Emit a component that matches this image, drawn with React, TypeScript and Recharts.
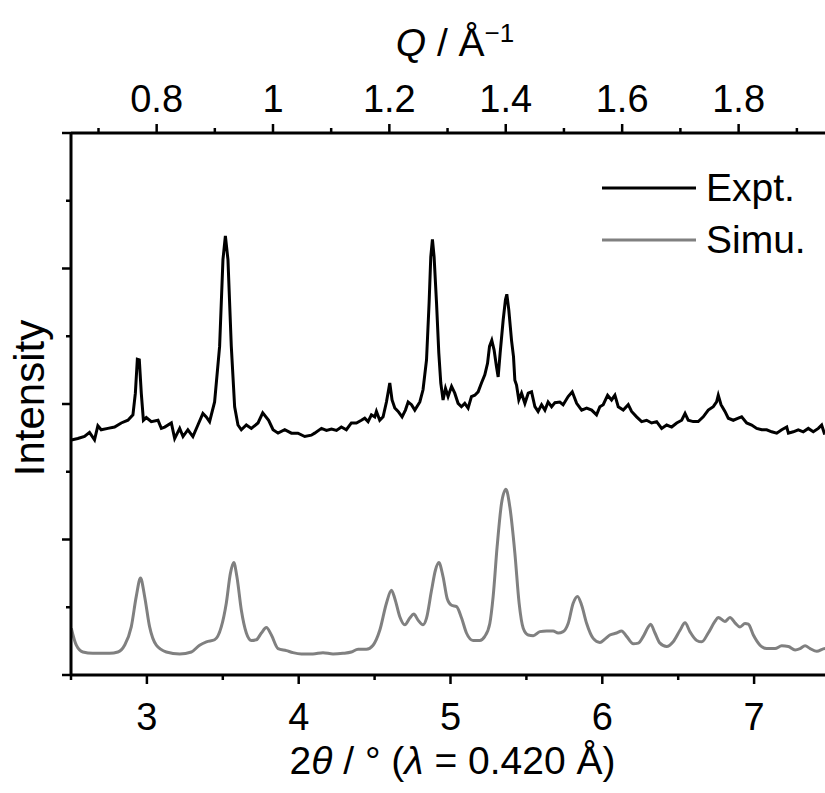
import React from 'react';
import { LineChart, Line, XAxis, YAxis } from 'recharts';

// wavelength used for the Q axis on top
const LAMBDA = 0.42;

const exptTwoTheta = [
  2.502, 2.545, 2.589, 2.622, 2.655, 2.677, 2.699, 2.743, 2.787, 2.831, 2.875, 2.908, 2.924, 2.937, 2.95,
  2.963, 2.977, 2.996, 3.029, 3.073, 3.095, 3.117, 3.161, 3.183, 3.216, 3.238, 3.27, 3.303, 3.336, 3.369,
  3.391, 3.413, 3.446, 3.479, 3.501, 3.517, 3.534, 3.556, 3.578, 3.6, 3.622, 3.655, 3.688, 3.732, 3.763,
  3.802, 3.831, 3.864, 3.908, 3.952, 3.995, 4.04, 4.083, 4.105, 4.15, 4.183, 4.216, 4.249, 4.281, 4.314,
  4.347, 4.38, 4.413, 4.435, 4.457, 4.479, 4.501, 4.512, 4.534, 4.556, 4.578, 4.6, 4.615, 4.633, 4.655,
  4.681, 4.703, 4.721, 4.743, 4.765, 4.798, 4.819, 4.842, 4.859, 4.87, 4.881, 4.892, 4.908, 4.923, 4.936,
  4.951, 4.967, 4.984, 5.007, 5.028, 5.05, 5.072, 5.094, 5.116, 5.138, 5.16, 5.182, 5.204, 5.226, 5.244,
  5.257, 5.272, 5.287, 5.303, 5.314, 5.327, 5.347, 5.362, 5.371, 5.384, 5.402, 5.415, 5.424, 5.435, 5.45,
  5.468, 5.49, 5.512, 5.534, 5.556, 5.577, 5.6, 5.622, 5.643, 5.666, 5.688, 5.72, 5.742, 5.775, 5.802,
  5.831, 5.864, 5.897, 5.93, 5.962, 5.984, 6.006, 6.035, 6.061, 6.083, 6.105, 6.138, 6.171, 6.193, 6.226,
  6.259, 6.292, 6.325, 6.358, 6.391, 6.424, 6.457, 6.49, 6.523, 6.545, 6.566, 6.599, 6.632, 6.665, 6.698,
  6.731, 6.753, 6.764, 6.782, 6.808, 6.83, 6.863, 6.896, 6.918, 6.951, 6.984, 7.017, 7.05, 7.083, 7.116,
  7.149, 7.182, 7.215, 7.226, 7.258, 7.291, 7.324, 7.357, 7.39, 7.423, 7.445, 7.462, 7.5,
];
const exptIntensity = [
  3.47, 3.49, 3.52, 3.58, 3.47, 3.68, 3.62, 3.64, 3.66, 3.72, 3.76, 3.84, 4.16, 4.66, 4.65,
  4.16, 3.76, 3.8, 3.74, 3.76, 3.64, 3.66, 3.72, 3.49, 3.64, 3.52, 3.62, 3.52, 3.69, 3.86,
  3.81, 3.74, 4.03, 4.85, 6.13, 6.48, 6.13, 4.85, 3.96, 3.69, 3.62, 3.69, 3.64, 3.72, 3.87,
  3.76, 3.62, 3.57, 3.62, 3.57, 3.57, 3.52, 3.54, 3.57, 3.64, 3.61, 3.63, 3.61, 3.66, 3.62,
  3.72, 3.72, 3.76, 3.79, 3.74, 3.84, 3.81, 3.89, 3.76, 3.81, 4.03, 4.31, 4.06, 3.94, 3.89,
  3.81, 3.91, 4.03, 3.99, 3.91, 4.03, 4.21, 4.65, 5.49, 6.17, 6.43, 6.17, 5.49, 4.75, 4.31,
  4.06, 4.23, 4.11, 4.26, 4.16, 4.01, 3.96, 4.01, 3.94, 4.11, 4.13, 4.18, 4.31, 4.43, 4.6,
  4.85, 4.94, 4.8, 4.55, 4.4, 4.75, 5.24, 5.54, 5.62, 5.39, 4.94, 4.7, 4.35, 4.28, 4.06,
  4.16, 4.01, 4.16, 4.18, 3.96, 3.89, 3.99, 3.91, 4.03, 3.96, 4.02, 4.03, 3.99, 4.11, 4.18,
  4.01, 3.91, 3.94, 3.91, 3.84, 3.96, 3.99, 4.13, 4.06, 4.13, 3.96, 3.91, 3.99, 3.89, 3.81,
  3.74, 3.76, 3.72, 3.74, 3.64, 3.69, 3.66, 3.72, 3.76, 3.86, 3.76, 3.74, 3.74, 3.81, 3.91,
  3.96, 4.03, 4.13, 3.99, 3.89, 3.79, 3.76, 3.79, 3.81, 3.72, 3.69, 3.64, 3.62, 3.62, 3.59,
  3.57, 3.62, 3.66, 3.57, 3.59, 3.62, 3.59, 3.64, 3.59, 3.64, 3.69, 3.57, 3.6,
];

const simuTwoTheta = [
  2.502, 2.535, 2.578, 2.644, 2.754, 2.809, 2.853, 2.897, 2.93, 2.958, 2.985, 3.018, 3.062, 3.128, 3.216,
  3.293, 3.347, 3.392, 3.446, 3.49, 3.523, 3.55, 3.572, 3.593, 3.622, 3.655, 3.688, 3.721, 3.754, 3.787,
  3.82, 3.864, 3.919, 3.962, 4.018, 4.094, 4.16, 4.226, 4.292, 4.347, 4.391, 4.446, 4.49, 4.534, 4.578,
  4.611, 4.633, 4.666, 4.699, 4.732, 4.758, 4.786, 4.819, 4.842, 4.875, 4.901, 4.923, 4.951, 4.978, 5.007,
  5.04, 5.073, 5.105, 5.149, 5.193, 5.226, 5.259, 5.281, 5.307, 5.336, 5.365, 5.391, 5.424, 5.452, 5.479,
  5.512, 5.545, 5.589, 5.633, 5.676, 5.709, 5.742, 5.775, 5.808, 5.837, 5.864, 5.897, 5.94, 5.984, 6.017,
  6.05, 6.094, 6.127, 6.16, 6.204, 6.237, 6.27, 6.303, 6.318, 6.347, 6.38, 6.424, 6.467, 6.512, 6.545,
  6.577, 6.622, 6.655, 6.698, 6.742, 6.764, 6.808, 6.841, 6.874, 6.907, 6.94, 6.962, 6.995, 7.039, 7.083,
  7.138, 7.182, 7.226, 7.27, 7.303, 7.336, 7.369, 7.413, 7.467, 7.5,
];
const simuIntensity = [
  0.69, 0.44, 0.34, 0.32, 0.32, 0.34, 0.44, 0.71, 1.16, 1.43, 1.16, 0.71, 0.44, 0.34, 0.31,
  0.34, 0.44, 0.49, 0.52, 0.71, 1.06, 1.5, 1.66, 1.45, 0.96, 0.62, 0.51, 0.52, 0.62, 0.7,
  0.59, 0.39, 0.36, 0.33, 0.31, 0.31, 0.33, 0.31, 0.32, 0.34, 0.38, 0.38, 0.44, 0.66, 1.06,
  1.25, 1.13, 0.86, 0.74, 0.84, 0.9, 0.81, 0.74, 0.84, 1.25, 1.55, 1.66, 1.45, 1.13, 1.03,
  1.01, 0.84, 0.62, 0.51, 0.51, 0.57, 0.76, 1.16, 1.89, 2.53, 2.74, 2.48, 1.8, 1.06, 0.69,
  0.59, 0.58, 0.64, 0.65, 0.65, 0.62, 0.64, 0.76, 1.06, 1.16, 1.03, 0.76, 0.54, 0.48, 0.53,
  0.59, 0.62, 0.65, 0.57, 0.46, 0.47, 0.57, 0.71, 0.75, 0.62, 0.47, 0.42, 0.49, 0.66, 0.77,
  0.64, 0.51, 0.49, 0.62, 0.79, 0.85, 0.79, 0.85, 0.77, 0.71, 0.76, 0.75, 0.59, 0.44, 0.39,
  0.39, 0.43, 0.42, 0.37, 0.39, 0.43, 0.39, 0.35, 0.39, 0.37,
];

const twoThetaTicks = [2.5, 3, 3.5, 4, 4.5, 5, 5.5, 6, 6.5, 7, 7.5];
const qTicks = [0.7, 0.8, 0.9, 1.0, 1.1, 1.2, 1.3, 1.4, 1.5, 1.6, 1.7, 1.8, 1.9];
const intensityTicks = [0, 1, 2, 3, 4, 5, 6, 7, 8];
const seriesNames = ['Expt.', 'Simu.'];

const FONT = '"Liberation Sans", Arial, sans-serif';
const GREY = '#808080';
const TICK_FONT = 38;

const qToTwoTheta = (q: number) => (2 * Math.asin((q * LAMBDA) / (4 * Math.PI)) * 180) / Math.PI;
const twoThetaToQ = (tt: number) => (4 * Math.PI * Math.sin(((tt / 2) * Math.PI) / 180)) / LAMBDA;

const exptData = exptTwoTheta.map((x, i) => ({ x, y: exptIntensity[i] }));
const simuData = simuTwoTheta.map((x, i) => ({ x, y: simuIntensity[i] }));

const BottomTick = (props: any) => {
  const { x, y, payload } = props;
  const major = Number.isInteger(payload.value);
  return (
    <g>
      <line x1={x} y1={y} x2={x} y2={y + (major ? 9 : 5)} stroke="#000" strokeWidth={2.5} />
      {major && (
        <text x={x} y={y + 55} textAnchor="middle" fontSize={TICK_FONT} fontFamily={FONT} fill="#000">
          {payload.value}
        </text>
      )}
    </g>
  );
};

const TopTick = (props: any) => {
  const { x, y, payload } = props;
  const tenth = Math.round(twoThetaToQ(payload.value) * 10);
  const major = tenth % 2 === 0;
  return (
    <g>
      <line x1={x} y1={y} x2={x} y2={y - (major ? 9 : 5)} stroke="#000" strokeWidth={2.5} />
      {major && (
        <text x={x} y={y - 21} textAnchor="middle" fontSize={TICK_FONT} fontFamily={FONT} fill="#000">
          {String(tenth / 10)}
        </text>
      )}
    </g>
  );
};

const LeftTick = (props: any) => {
  const { x, y, payload } = props;
  const major = payload.value % 2 === 0;
  return <line x1={x} y1={y} x2={x - (major ? 9 : 5)} y2={y} stroke="#000" strokeWidth={2.5} />;
};

export default function App() {
  return (
    <div
      style={{
        position: 'absolute',
        left: 0,
        top: 0,
        width: 825,
        height: 793,
        overflow: 'hidden',
        background: '#fff',
        fontFamily: FONT,
      }}
    >
      <LineChart width={840} height={793} margin={{ top: 73, right: 10, bottom: 58, left: 0 }}>
        <XAxis
          xAxisId="bottom"
          orientation="bottom"
          type="number"
          dataKey="x"
          domain={[2.5, 7.5]}
          allowDataOverflow
          ticks={twoThetaTicks}
          interval={0}
          height={60}
          tickLine={false}
          tickSize={0}
          tickMargin={0}
          axisLine={{ stroke: '#000', strokeWidth: 3 }}
          tick={(p: any) => <BottomTick {...p} />}
        />
        <XAxis
          xAxisId="top"
          orientation="top"
          type="number"
          dataKey="x"
          domain={[2.5, 7.5]}
          allowDataOverflow
          ticks={qTicks.map(qToTwoTheta)}
          interval={0}
          height={60}
          tickLine={false}
          tickSize={0}
          tickMargin={0}
          axisLine={{ stroke: '#000', strokeWidth: 3 }}
          tick={(p: any) => <TopTick {...p} />}
        />
        <YAxis
          yAxisId="left"
          type="number"
          domain={[0, 8]}
          allowDataOverflow
          ticks={intensityTicks}
          interval={0}
          width={71}
          tickLine={false}
          tickSize={0}
          tickMargin={0}
          axisLine={{ stroke: '#000', strokeWidth: 3 }}
          tick={(p: any) => <LeftTick {...p} />}
        />
        <Line
          data={simuData}
          dataKey="y"
          name={seriesNames[1]}
          xAxisId="bottom"
          yAxisId="left"
          type="monotone"
          stroke={GREY}
          strokeWidth={3}
          dot={false}
          isAnimationActive={false}
        />
        <Line
          data={exptData}
          dataKey="y"
          name={seriesNames[0]}
          xAxisId="bottom"
          yAxisId="left"
          type="linear"
          stroke="#000"
          strokeWidth={3}
          dot={false}
          isAnimationActive={false}
        />
      </LineChart>

      {/* legend */}
      <div style={{ position: 'absolute', left: 602, top: 162, fontSize: 39, lineHeight: '52px' }}>
        {seriesNames.map((name, i) => (
          <div key={name} style={{ display: 'flex', alignItems: 'center' }}>
            <svg width={94} height={10} style={{ marginRight: 10 }}>
              <line x1={0} y1={5} x2={94} y2={5} stroke={i === 0 ? '#000' : GREY} strokeWidth={3} />
            </svg>
            <span>{name}</span>
          </div>
        ))}
      </div>

      <div
        style={{
          position: 'absolute',
          left: 260,
          width: 390,
          top: 20,
          textAlign: 'center',
          fontSize: 39,
          lineHeight: '46px',
        }}
      >
        <i>Q</i> / Å<sup style={{ fontSize: 26, verticalAlign: 'top', lineHeight: '26px' }}>−1</sup>
      </div>
      <div
        style={{
          position: 'absolute',
          left: 150,
          width: 605,
          top: 738,
          textAlign: 'center',
          fontSize: 39,
          lineHeight: '46px',
        }}
      >
        2<i>θ</i> / ° (<i>λ</i> = 0.420 Å)
      </div>
      <div
        style={{
          position: 'absolute',
          left: 30,
          top: 398,
          fontSize: 42,
          lineHeight: '46px',
          whiteSpace: 'nowrap',
          transform: 'translate(-50%, -50%) rotate(-90deg)',
        }}
      >
        Intensity
      </div>
    </div>
  );
}
